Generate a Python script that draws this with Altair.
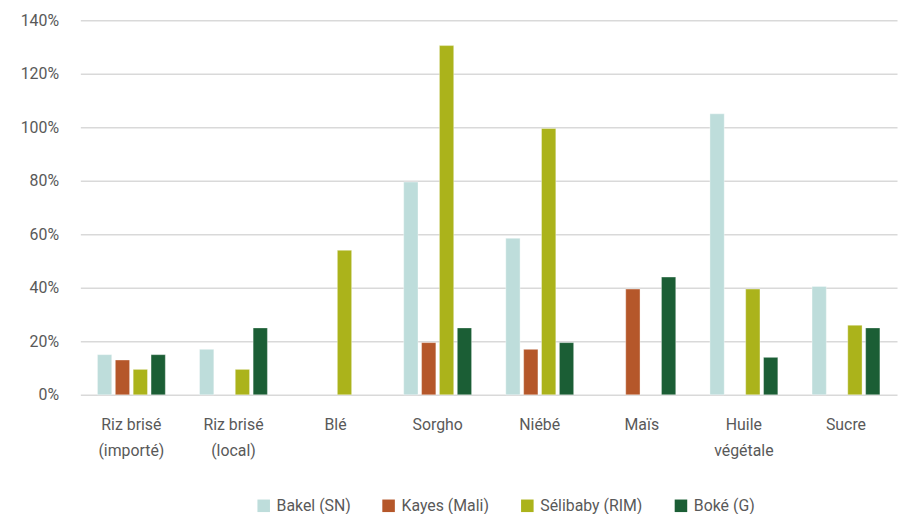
import altair as alt
import pandas as pd

categories = ["Riz brisé|(importé)", "Riz brisé|(local)", "Blé", "Sorgho", "Niébé", "Maïs", "Huile|végétale", "Sucre"]
series = ["Bakel (SN)", "Kayes (Mali)", "Sélibaby (RIM)", "Boké (G)"]
colors = ["#BEDDDB", "#B5572A", "#ABB31B", "#1B5E35"]

bakel    = [0.15, 0.17, None, 0.795, 0.585, None, 1.05, 0.405]
kayes    = [0.13, None, None, 0.195, 0.17, 0.395, None, None]
selibaby = [0.095, 0.095, 0.54, 1.305, 0.995, None, 0.395, 0.26]
boke     = [0.15, 0.25, None, 0.25, 0.195, 0.44, 0.14, 0.25]

rows = []
for s, vals in zip(series, [bakel, kayes, selibaby, boke]):
    for c, v in zip(categories, vals):
        if v is not None:
            rows.append({"cat": c, "series": s, "value": v})
df = pd.DataFrame(rows)

FONT = "Roboto"
GREY = "#595959"

chart = alt.Chart(df).mark_bar(stroke="white", strokeWidth=0.6, strokeOpacity=0.6).encode(
    x=alt.X("cat:N", sort=categories, title=None,
            scale=alt.Scale(paddingInner=0.3, paddingOuter=0.15),
            axis=alt.Axis(labelAngle=0, labelExpr="split(datum.label, '|')",
                          labelFontSize=16, labelColor=GREY, labelFont=FONT,
                          labelPadding=22, labelLineHeight=26, ticks=False, domain=False,
                          labelBaseline="top")),
    xOffset=alt.XOffset("series:N", sort=series,
                        scale=alt.Scale(paddingInner=0.2, paddingOuter=0.1)),
    y=alt.Y("value:Q", title=None,
            scale=alt.Scale(domain=[0, 1.4], nice=False),
            axis=alt.Axis(format=".0%", values=[0, 0.2, 0.4, 0.6, 0.8, 1.0, 1.2, 1.4],
                          labelFontSize=16, labelColor=GREY, labelFont=FONT,
                          labelPadding=22, ticks=False, domain=False,
                          gridColor="#D9D9D9", gridWidth=1.5)),
    color=alt.Color("series:N", sort=series,
                    scale=alt.Scale(domain=series, range=colors),
                    legend=alt.Legend(title=None, orient="none", direction="horizontal",
                                      legendX=177, legendY=482,
                                      symbolType="square", symbolSize=160, symbolStrokeWidth=0,
                                      labelFontSize=16, labelColor=GREY, labelFont=FONT,
                                      columnPadding=30, labelOffset=5)),
).properties(
    width=824, height=378,
    autosize=alt.AutoSizeParams(type="none"),
    padding={"left": 73, "top": 10, "right": 2, "bottom": 118},
).configure_view(stroke=None)

chart.save("out.html", embed_options={"renderer": "svg", "actions": False})
